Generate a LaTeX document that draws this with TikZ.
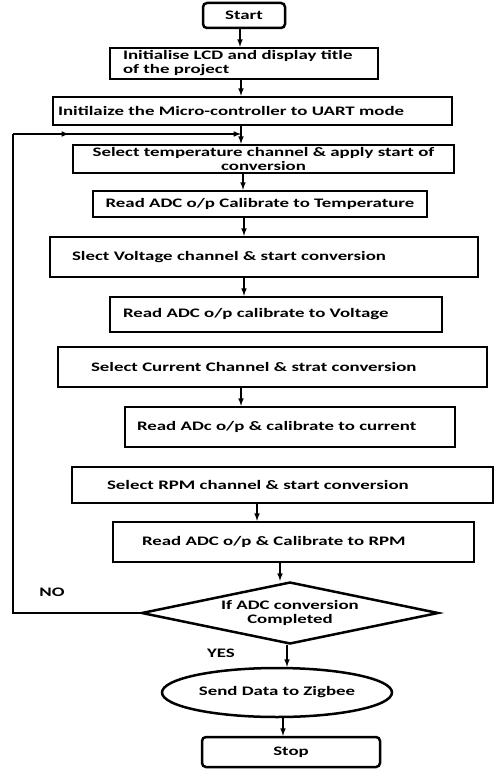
\documentclass[tikz,border=0pt]{standalone}
\usepackage{fontspec}
\setmainfont[FakeStretch=1.45]{Carlito}
\usetikzlibrary{shapes.geometric}
\tikzset{ %
  ,>=latex
  ,every node/.style={font=\bfseries\fontsize{13}{14}\selectfont}
  ,term/.style={draw, rounded corners=4pt, line width=2.5pt, inner sep=0}
  ,proc/.style={draw, line width=2.5pt, inner ysep=2pt, align=left}
  ,decide/.style={draw, diamond, aspect=4.8, line width=2.5pt, inner sep=0, align=center}
  ,io/.style={draw, ellipse, line width=2.5pt, inner sep=0}
  ,arr/.style={line width=1.5pt, ->}
  ,wire/.style={line width=1.5pt}
  ,lbl/.style={inner sep=0}
}
\begin{document}
\begin{tikzpicture}[x=1pt, y=-1pt]
      \useasboundingbox (0,0) rectangle (494,770);
      \draw
      node[term, minimum width=82, minimum height=25] (start) at (244,15.5) {Start}
      node[proc, minimum width=268, minimum height=31, inner xsep=13, text width=242] (lcd) at (244,63.5)
        {Initialise LCD and display title\\of the project}
      node[proc, minimum width=399, minimum height=28, inner xsep=5, text width=389] (uart) at (252.5,111)
        {Initilaize the Micro-controller to UART mode}
      node[proc, minimum width=381, minimum height=28, inner xsep=4, align=center] (tmpsel) at (263.5,159)
        {Select temperature channel \& apply start of\\conversion}
      node[proc, minimum width=334, minimum height=26, align=center] (tmprd) at (260,204)
        {Read ADC o/p Calibrate to Temperature}
      node[proc, minimum width=428, minimum height=40, inner xsep=22, text width=384] (vsel) at (264,257)
        {Slect Voltage channel \& start conversion}
      node[proc, minimum width=332, minimum height=35, inner xsep=13, text width=306] (vrd) at (276,314.5)
        {Read ADC o/p calibrate to Voltage}
      node[proc, minimum width=429, minimum height=40, inner xsep=33, text width=363] (isel) at (272.5,367)
        {Select Current Channel \& strat conversion}
      node[proc, minimum width=330, minimum height=40, inner xsep=12, text width=306] (ird) at (290,427)
        {Read ADc o/p \& calibrate to current}
      node[proc, minimum width=421, minimum height=36, inner xsep=35, text width=351] (rpmsel) at (282.5,485)
        {Select RPM channel \& start conversion}
      node[proc, minimum width=361, minimum height=40, inner xsep=29, text width=303] (rpmrd) at (293.5,542)
        {Read ADC o/p \& Calibrate to RPM}
      node[decide, minimum width=297, minimum height=62] (done) at (290,613)
        {If ADC conversion\\Completed}
      node[io, minimum width=230, minimum height=49] (zig) at (277,692.5) {Send Data to Zigbee}
      node[term, minimum width=178, minimum height=30] (stop) at (291,752) {Stop}
      node[lbl] (no) at (52,592) {NO}
      node[lbl] (yes) at (221,653) {YES};
      % main flow
      \draw [arr] ([xshift=-4]start.south) -- ([xshift=-4]start.south |- lcd.north);
      \draw [arr] ([xshift=-3]lcd.south) -- ([xshift=-3]lcd.south |- uart.north);
      \coordinate (join) at ([xshift=-11.5]uart.south |- 0,134);
      \draw [arr] ([xshift=-11.5]uart.south) -- ([xshift=-11.5]uart.south |- tmpsel.north);
      \draw [arr] ([xshift=-20.5]tmpsel.south) -- ([xshift=-20.5]tmpsel.south |- tmprd.north);
      \draw [arr] ([xshift=-16]tmprd.south) -- ([xshift=-16]tmprd.south |- vsel.north);
      \draw [arr] ([xshift=-20]vsel.south) -- ([xshift=-20]vsel.south |- vrd.north);
      \draw [arr] ([xshift=-31.5]isel.south) -- ([xshift=-31.5]isel.south |- ird.north);
      \draw [arr] ([xshift=-25.5]rpmsel.south) -- ([xshift=-25.5]rpmsel.south |- rpmrd.north);
      \draw [arr] ([xshift=-13.5]rpmrd.south) -- ([xshift=-13.5]rpmrd.south |- done.north);
      \draw [arr] ([xshift=-3]done.south) -- ([xshift=-3]done.south |- zig.north);
      \draw [arr] ([xshift=6]zig.south) -- ([xshift=6]zig.south |- stop.north);
      % NO loop back
      \coordinate (loop) at (13,134);
      \draw [wire] (done.west) -| (loop);
      \draw [arr] (loop) -- (join);
      \draw [arr] (loop) -- ++(56,0);
    \end{tikzpicture}
\end{document}
